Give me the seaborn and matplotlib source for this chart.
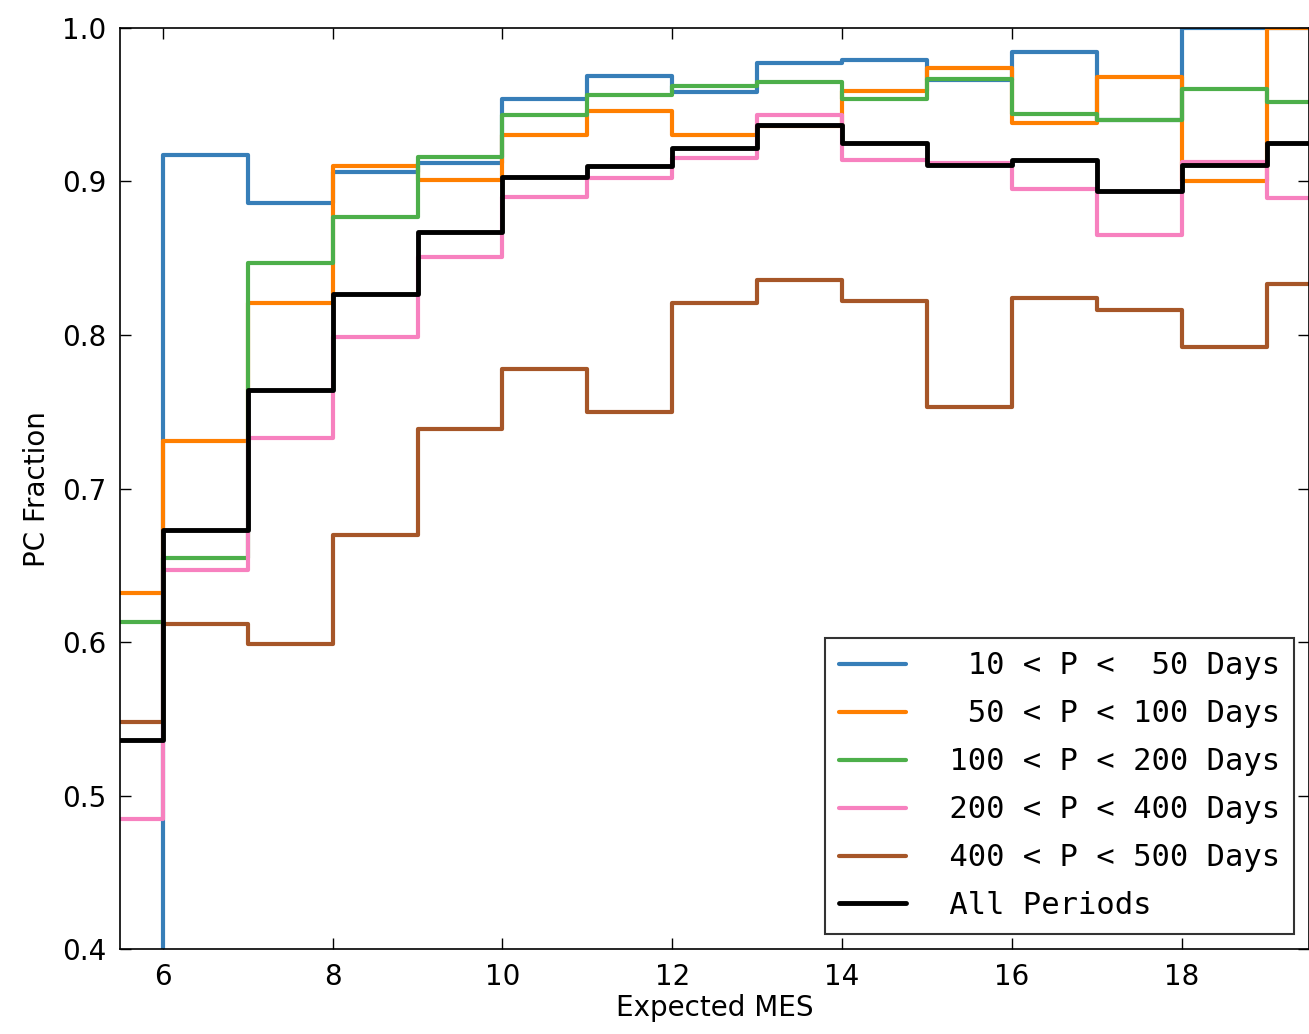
import numpy as np
import pandas as pd
import seaborn as sns
import matplotlib.pyplot as plt

# bin left edges (Expected MES), last edge 20
mes = [5, 6, 7, 8, 9, 10, 11, 12, 13, 14, 15, 16, 17, 18, 19]
p10_50 = [0.39, 0.917, 0.886, 0.906, 0.912, 0.954, 0.969, 0.958, 0.977, 0.979, 0.966, 0.984, 0.940, 1.0, 1.0]
p50_100 = [0.632, 0.731, 0.821, 0.910, 0.901, 0.930, 0.946, 0.930, 0.936, 0.959, 0.974, 0.938, 0.968, 0.900, 1.0]
p100_200 = [0.613, 0.655, 0.847, 0.877, 0.916, 0.943, 0.956, 0.962, 0.965, 0.954, 0.967, 0.944, 0.940, 0.960, 0.952]
p200_400 = [0.485, 0.647, 0.733, 0.799, 0.851, 0.890, 0.902, 0.915, 0.943, 0.914, 0.912, 0.895, 0.865, 0.913, 0.889]
p400_500 = [0.548, 0.612, 0.599, 0.670, 0.739, 0.778, 0.750, 0.821, 0.836, 0.822, 0.753, 0.824, 0.816, 0.792, 0.833]
p_all = [0.536, 0.673, 0.764, 0.827, 0.867, 0.903, 0.910, 0.922, 0.937, 0.925, 0.911, 0.914, 0.894, 0.911, 0.925]

series = [
    ("  10 < P <  50 Days", p10_50, "#377eb8"),
    ("  50 < P < 100 Days", p50_100, "#ff7f00"),
    (" 100 < P < 200 Days", p100_200, "#4daf4a"),
    (" 200 < P < 400 Days", p200_400, "#f781bf"),
    (" 400 < P < 500 Days", p400_500, "#a65628"),
    (" All Periods", p_all, "black"),
]

sns.set_style("ticks")
plt.rcParams['font.family'] = ['DejaVu Sans']
plt.rcParams['text.color'] = 'black'
plt.rcParams['axes.labelcolor'] = 'black'
plt.rcParams['xtick.color'] = 'black'
plt.rcParams['ytick.color'] = 'black'
fig = plt.figure(figsize=(13.09, 10.34), dpi=100)
ax = fig.add_axes([0.092, 0.082, 0.908, 0.891])

edges = mes + [mes[-1] + 1]
for label, vals, col in series:
    df = pd.DataFrame({"x": edges, "y": vals + [vals[-1]]})
    sns.lineplot(data=df, x="x", y="y", ax=ax, color=col, lw=3.5 if col == "black" else 3,
                 drawstyle="steps-post", label=label)

ax.set_xlim(5.5, 19.5)
ax.set_ylim(0.4, 1.0)
ax.set_xticks([6, 8, 10, 12, 14, 16, 18])
ax.set_yticks(np.arange(0.4, 1.01, 0.1))
ax.set_yticklabels([f"{v:.1f}" for v in np.arange(0.4, 1.01, 0.1)])
ax.tick_params(direction="in", length=8, width=1, labelsize=20, top=True, right=True, pad=10)
for s in ax.spines.values():
    s.set_linewidth(1.2)
    s.set_color("black")
ax.set_xlabel("Expected MES", fontsize=20, labelpad=2)
ax.set_ylabel("PC Fraction", fontsize=20, labelpad=8)
leg = ax.legend(loc="lower right", prop={"family": "DejaVu Sans Mono", "size": 22},
                frameon=True, fancybox=False, edgecolor="black", handlelength=2.2,
                borderaxespad=0.5, labelspacing=0.62, borderpad=0.45)
leg.get_frame().set_linewidth(1.5)
fig.savefig("out.png", dpi=100)
